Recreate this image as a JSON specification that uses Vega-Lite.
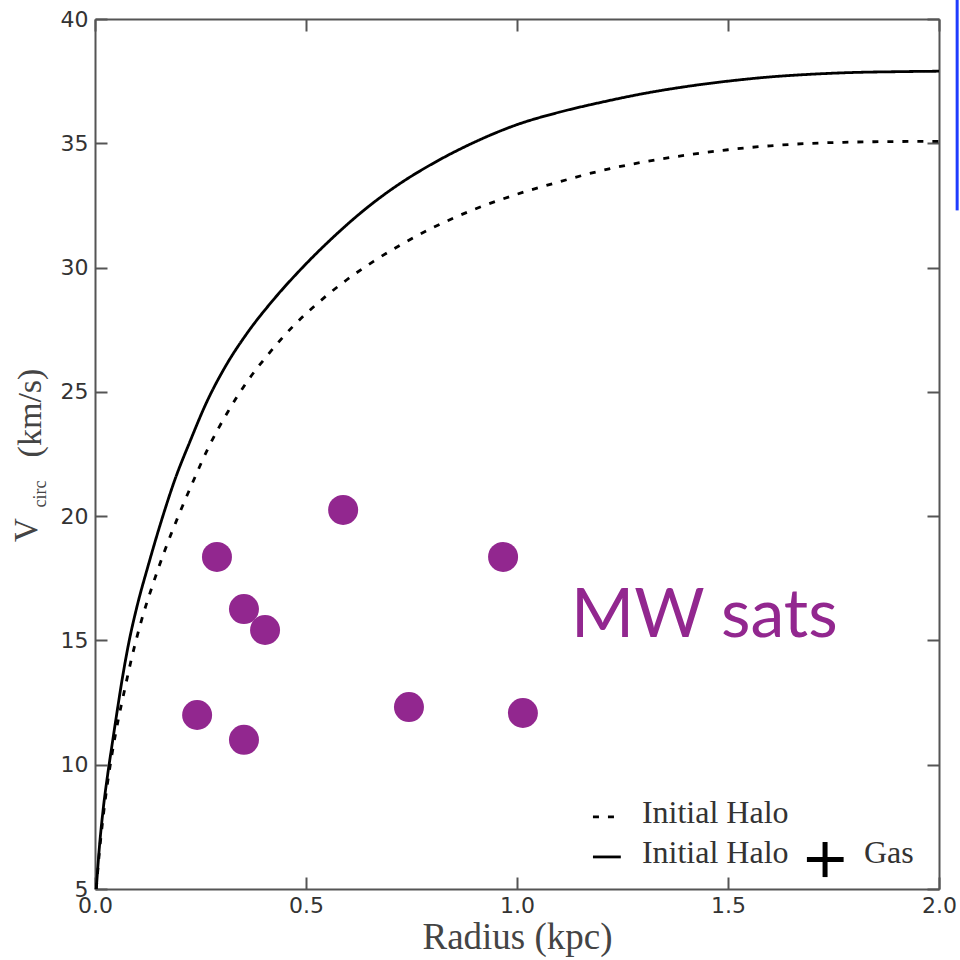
{
  "$schema": "https://vega.github.io/schema/vega-lite/v6.json",
  "autosize": {"type": "none"},
  "padding": {"left": 95, "top": 19, "right": 21, "bottom": 71},
  "width": 844,
  "height": 870,
  "background": "white",
  "config": {
    "view": {"stroke": null},
    "axis": {
      "grid": false,
      "domainColor": "#555555",
      "domainWidth": 2,
      "tickColor": "#555555",
      "tickWidth": 2,
      "tickSize": -12,
      "labelFont": "DejaVu Sans",
      "labelFontSize": 22,
      "labelColor": "#333333",
      "labelPadding": 18,
      "labelFlush": false,
      "labelOverlap": false
    }
  },
  "datasets": {
    "curves": [
      {"r": 0.003, "v": 5.0, "series": "Initial Halo + Gas"},
      {"r": 0.01, "v": 6.6, "series": "Initial Halo + Gas"},
      {"r": 0.02, "v": 8.3, "series": "Initial Halo + Gas"},
      {"r": 0.03, "v": 9.6, "series": "Initial Halo + Gas"},
      {"r": 0.04, "v": 10.75, "series": "Initial Halo + Gas"},
      {"r": 0.052, "v": 12.1, "series": "Initial Halo + Gas"},
      {"r": 0.065, "v": 13.5, "series": "Initial Halo + Gas"},
      {"r": 0.08, "v": 14.9, "series": "Initial Halo + Gas"},
      {"r": 0.1, "v": 16.4, "series": "Initial Halo + Gas"},
      {"r": 0.125, "v": 17.95, "series": "Initial Halo + Gas"},
      {"r": 0.158, "v": 19.85, "series": "Initial Halo + Gas"},
      {"r": 0.19, "v": 21.5, "series": "Initial Halo + Gas"},
      {"r": 0.225, "v": 23.0, "series": "Initial Halo + Gas"},
      {"r": 0.265, "v": 24.6, "series": "Initial Halo + Gas"},
      {"r": 0.31, "v": 26.05, "series": "Initial Halo + Gas"},
      {"r": 0.36, "v": 27.35, "series": "Initial Halo + Gas"},
      {"r": 0.42, "v": 28.65, "series": "Initial Halo + Gas"},
      {"r": 0.486, "v": 29.9, "series": "Initial Halo + Gas"},
      {"r": 0.56, "v": 31.15, "series": "Initial Halo + Gas"},
      {"r": 0.644, "v": 32.4, "series": "Initial Halo + Gas"},
      {"r": 0.72, "v": 33.35, "series": "Initial Halo + Gas"},
      {"r": 0.802, "v": 34.2, "series": "Initial Halo + Gas"},
      {"r": 0.9, "v": 35.05, "series": "Initial Halo + Gas"},
      {"r": 1.0, "v": 35.75, "series": "Initial Halo + Gas"},
      {"r": 1.1, "v": 36.25, "series": "Initial Halo + Gas"},
      {"r": 1.2, "v": 36.65, "series": "Initial Halo + Gas"},
      {"r": 1.3, "v": 37.0, "series": "Initial Halo + Gas"},
      {"r": 1.4, "v": 37.28, "series": "Initial Halo + Gas"},
      {"r": 1.5, "v": 37.5, "series": "Initial Halo + Gas"},
      {"r": 1.6, "v": 37.67, "series": "Initial Halo + Gas"},
      {"r": 1.7, "v": 37.78, "series": "Initial Halo + Gas"},
      {"r": 1.8, "v": 37.85, "series": "Initial Halo + Gas"},
      {"r": 1.9, "v": 37.88, "series": "Initial Halo + Gas"},
      {"r": 2.0, "v": 37.9, "series": "Initial Halo + Gas"},
      {"r": 0.003, "v": 5.0, "series": "Initial Halo"},
      {"r": 0.01, "v": 6.4, "series": "Initial Halo"},
      {"r": 0.02, "v": 8.0, "series": "Initial Halo"},
      {"r": 0.03, "v": 9.3, "series": "Initial Halo"},
      {"r": 0.04, "v": 10.4, "series": "Initial Halo"},
      {"r": 0.055, "v": 11.8, "series": "Initial Halo"},
      {"r": 0.07, "v": 13.0, "series": "Initial Halo"},
      {"r": 0.087, "v": 14.3, "series": "Initial Halo"},
      {"r": 0.11, "v": 15.8, "series": "Initial Halo"},
      {"r": 0.138, "v": 17.3, "series": "Initial Halo"},
      {"r": 0.165, "v": 18.6, "series": "Initial Halo"},
      {"r": 0.195, "v": 19.9, "series": "Initial Halo"},
      {"r": 0.23, "v": 21.3, "series": "Initial Halo"},
      {"r": 0.27, "v": 22.8, "series": "Initial Halo"},
      {"r": 0.315, "v": 24.2, "series": "Initial Halo"},
      {"r": 0.36, "v": 25.4, "series": "Initial Halo"},
      {"r": 0.41, "v": 26.5, "series": "Initial Halo"},
      {"r": 0.47, "v": 27.65, "series": "Initial Halo"},
      {"r": 0.53, "v": 28.6, "series": "Initial Halo"},
      {"r": 0.596, "v": 29.5, "series": "Initial Halo"},
      {"r": 0.66, "v": 30.25, "series": "Initial Halo"},
      {"r": 0.723, "v": 30.9, "series": "Initial Halo"},
      {"r": 0.8, "v": 31.6, "series": "Initial Halo"},
      {"r": 0.9, "v": 32.35, "series": "Initial Halo"},
      {"r": 1.0, "v": 32.95, "series": "Initial Halo"},
      {"r": 1.1, "v": 33.45, "series": "Initial Halo"},
      {"r": 1.2, "v": 33.9, "series": "Initial Halo"},
      {"r": 1.3, "v": 34.25, "series": "Initial Halo"},
      {"r": 1.4, "v": 34.52, "series": "Initial Halo"},
      {"r": 1.5, "v": 34.74, "series": "Initial Halo"},
      {"r": 1.6, "v": 34.9, "series": "Initial Halo"},
      {"r": 1.7, "v": 35.0, "series": "Initial Halo"},
      {"r": 1.8, "v": 35.05, "series": "Initial Halo"},
      {"r": 1.9, "v": 35.07, "series": "Initial Halo"},
      {"r": 2.0, "v": 35.08, "series": "Initial Halo"}
    ],
    "sats": [
      {"r": 0.289, "v": 18.36},
      {"r": 0.588, "v": 20.25},
      {"r": 0.967, "v": 18.36},
      {"r": 0.353, "v": 16.26},
      {"r": 0.403, "v": 15.42},
      {"r": 0.242, "v": 12.0},
      {"r": 0.744, "v": 12.32},
      {"r": 1.014, "v": 12.08},
      {"r": 0.353, "v": 11.0}
    ],
    "one": [{"k": 1}]
  },
  "layer": [
    {
      "data": {"name": "curves"},
      "mark": {"type": "line", "color": "black", "strokeWidth": 2.8, "interpolate": "monotone", "strokeCap": "butt"},
      "encoding": {
        "x": {"field": "r", "type": "quantitative", "scale": {"domain": [0, 2], "nice": false, "zero": false},
              "axis": {"orient": "bottom", "values": [0, 0.5, 1, 1.5, 2], "format": ".1f", "title": "Radius (kpc)",
                       "titleFont": "Liberation Serif", "titleFontSize": 37, "titleFontWeight": "normal", "titleColor": "#444444", "titlePadding": 3}},
        "y": {"field": "v", "type": "quantitative", "scale": {"domain": [5, 40], "nice": false, "zero": false},
              "axis": {"orient": "left", "values": [5, 10, 15, 20, 25, 30, 35, 40], "format": "d", "title": null, "labelPadding": 19}},
        "strokeDash": {"field": "series", "type": "nominal",
                       "scale": {"domain": ["Initial Halo", "Initial Halo + Gas"], "range": [[6, 9], [1, 0]]}, "legend": null},
        "detail": {"field": "series"},
        "order": {"field": "r", "type": "quantitative"}
      }
    },
    {
      "data": {"name": "sats"},
      "mark": {"type": "circle", "size": 900, "color": "#92278f", "opacity": 1},
      "encoding": {
        "x": {"field": "r", "type": "quantitative", "axis": {"orient": "top", "values": [0, 0.5, 1, 1.5, 2], "labels": false, "title": null}},
        "y": {"field": "v", "type": "quantitative", "axis": {"orient": "right", "values": [5, 10, 15, 20, 25, 30, 35, 40], "labels": false, "title": null}}
      }
    },
    {
      "data": {"name": "one"},
      "mark": {"type": "text", "text": "MW sats", "font": "Lato", "fontSize": 68, "color": "#92278f", "align": "left", "baseline": "middle"},
      "encoding": {"x": {"datum": 1.128, "type": "quantitative", "axis": null}, "y": {"datum": 15.94, "type": "quantitative", "axis": null}}
    },
    {
      "data": {"name": "one"},
      "mark": {"type": "text", "text": "V", "font": "Liberation Serif", "fontSize": 33, "color": "#444444", "angle": 270, "align": "center", "baseline": "middle"},
      "encoding": {"x": {"datum": -0.161, "type": "quantitative", "axis": null}, "y": {"datum": 19.44, "type": "quantitative", "axis": null}}
    },
    {
      "data": {"name": "one"},
      "mark": {"type": "text", "text": "circ", "font": "Liberation Serif", "fontSize": 18, "color": "#444444", "angle": 270, "align": "center", "baseline": "middle"},
      "encoding": {"x": {"datum": -0.128, "type": "quantitative", "axis": null}, "y": {"datum": 20.89, "type": "quantitative", "axis": null}}
    },
    {
      "data": {"name": "one"},
      "mark": {"type": "text", "text": "(km/s)", "font": "Liberation Serif", "fontSize": 34, "color": "#444444", "angle": 270, "align": "center", "baseline": "middle"},
      "encoding": {"x": {"datum": -0.152, "type": "quantitative", "axis": null}, "y": {"datum": 24.15, "type": "quantitative", "axis": null}}
    },
    {
      "data": {"name": "one"},
      "mark": {"type": "rule", "color": "black", "strokeWidth": 2.8, "strokeDash": [6, 9], "strokeCap": "butt"},
      "encoding": {"x": {"datum": 1.18, "type": "quantitative", "axis": null}, "x2": {"datum": 1.246}, "y": {"datum": 7.9, "type": "quantitative", "axis": null}}
    },
    {
      "data": {"name": "one"},
      "mark": {"type": "rule", "color": "black", "strokeWidth": 2.8},
      "encoding": {"x": {"datum": 1.18, "type": "quantitative", "axis": null}, "x2": {"datum": 1.246}, "y": {"datum": 6.29, "type": "quantitative", "axis": null}}
    },
    {
      "data": {"name": "one"},
      "mark": {"type": "text", "text": "Initial Halo", "font": "Liberation Serif", "fontSize": 32, "color": "#333333", "align": "left", "baseline": "alphabetic"},
      "encoding": {"x": {"datum": 1.296, "type": "quantitative", "axis": null}, "y": {"datum": 7.64, "type": "quantitative", "axis": null}}
    },
    {
      "data": {"name": "one"},
      "mark": {"type": "text", "text": "Initial Halo", "font": "Liberation Serif", "fontSize": 32, "color": "#333333", "align": "left", "baseline": "alphabetic"},
      "encoding": {"x": {"datum": 1.296, "type": "quantitative", "axis": null}, "y": {"datum": 6.03, "type": "quantitative", "axis": null}}
    },
    {
      "data": {"name": "one"},
      "mark": {"type": "text", "text": "Gas", "font": "Liberation Serif", "fontSize": 32, "color": "#333333", "align": "left", "baseline": "alphabetic"},
      "encoding": {"x": {"datum": 1.822, "type": "quantitative", "axis": null}, "y": {"datum": 6.03, "type": "quantitative", "axis": null}}
    },
    {
      "data": {"name": "one"},
      "mark": {"type": "rule", "color": "black", "strokeWidth": 5},
      "encoding": {"x": {"datum": 1.687, "type": "quantitative", "axis": null}, "x2": {"datum": 1.774}, "y": {"datum": 6.19, "type": "quantitative", "axis": null}}
    },
    {
      "data": {"name": "one"},
      "mark": {"type": "rule", "color": "black", "strokeWidth": 5},
      "encoding": {"x": {"datum": 1.73, "type": "quantitative", "axis": null}, "y": {"datum": 6.89, "type": "quantitative", "axis": null}, "y2": {"datum": 5.48}}
    },
    {
      "data": {"name": "one"},
      "mark": {"type": "rule", "color": "#1f3cff", "strokeWidth": 3},
      "encoding": {"x": {"datum": 2.043, "type": "quantitative", "axis": null}, "y": {"datum": 40.8, "type": "quantitative", "axis": null}, "y2": {"datum": 32.3}}
    }
  ]
}
